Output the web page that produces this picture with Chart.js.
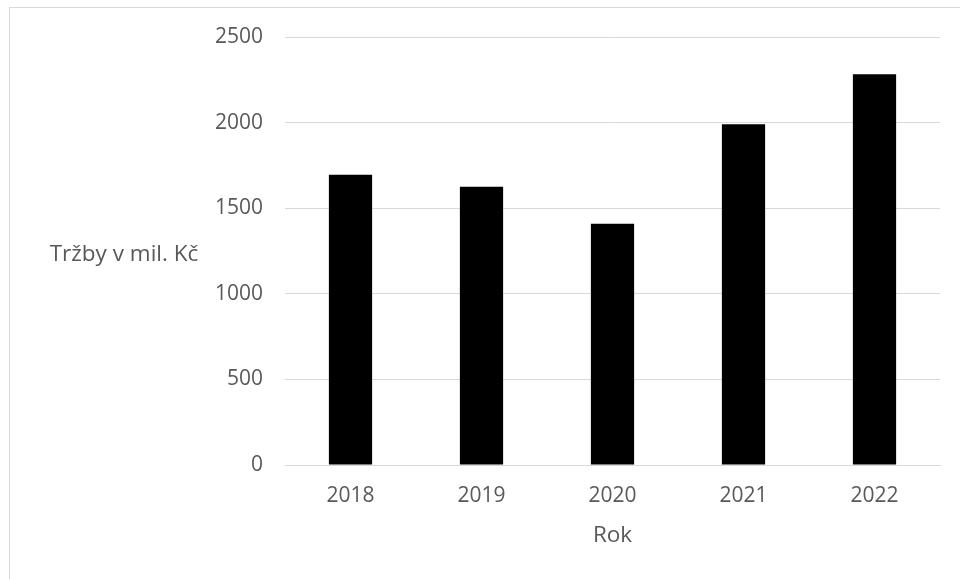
<!DOCTYPE html>
<html lang="cs">
<head>
  <meta charset="UTF-8" />
  <title>Tržby v mil. Kč</title>
  <script src="https://cdn.jsdelivr.net/npm/chart.js"></script>
  <style>
    html, body {
      margin: 0;
      padding: 0;
      background: #fff;
    }
    #wrap {
      width: 960px;
      height: 579px;
      position: relative;
    }
  </style>
</head>
<body>
  <div id="wrap"><canvas id="chart"></canvas></div>

  <script>
    const years = ["2018", "2019", "2020", "2021", "2022"];
    const revenue = [1695, 1626, 1409, 1990, 2282];
    const yTicks = [0, 500, 1000, 1500, 2000, 2500];

    const textColor = "#595959";
    const gridColor = "#d9d9d9";
    const fontFamily = "'Open Sans', 'Liberation Sans', sans-serif";

    // outer frame plus the horizontal y-axis caption
    const frameAndCaption = {
      id: "frameAndCaption",
      beforeDraw(chart) {
        const ctx = chart.ctx;
        ctx.save();
        ctx.strokeStyle = gridColor;
        ctx.lineWidth = 1;
        ctx.strokeRect(9.5, 7.5, 980, 600);
        ctx.restore();
      },
      afterDraw(chart) {
        const ctx = chart.ctx;
        const area = chart.chartArea;
        ctx.save();
        ctx.fillStyle = textColor;
        ctx.font = "22.5px " + fontFamily;
        ctx.textAlign = "center";
        ctx.textBaseline = "middle";
        ctx.fillText("Tržby v mil. Kč", 124, (area.top + area.bottom) / 2 + 4);
        ctx.restore();
      }
    };

    new Chart(document.getElementById("chart"), {
      type: "bar",
      data: {
        labels: years,
        datasets: [{
          data: revenue,
          backgroundColor: "#000000",
          borderWidth: 0,
          categoryPercentage: 1,
          barPercentage: 0.33
        }]
      },
      options: {
        responsive: true,
        maintainAspectRatio: false,
        animation: false,
        layout: { padding: { left: 0, right: 20, top: 37, bottom: 0 } },
        plugins: {
          legend: { display: false },
          tooltip: { enabled: false }
        },
        scales: {
          x: {
            grid: { display: false, drawTicks: false },
            border: { display: true, color: gridColor, width: 1 },
            ticks: {
              color: textColor,
              padding: 18,
              font: { family: fontFamily, size: 21 }
            },
            title: {
              display: true,
              text: "Rok",
              color: textColor,
              font: { family: fontFamily, size: 22.5 },
              padding: { top: 0, bottom: 30 }
            },
            afterFit(scale) { scale.height = 114; }
          },
          y: {
            min: 0,
            max: 2500,
            afterBuildTicks(scale) {
              scale.ticks = yTicks.map(v => ({ value: v }));
            },
            grid: { color: gridColor, lineWidth: 1, drawTicks: false },
            border: { display: false },
            ticks: {
              color: textColor,
              padding: 22,
              font: { family: fontFamily, size: 21 },
              callback: v => String(v)
            },
            afterFit(scale) { scale.width = 285; }
          }
        }
      },
      plugins: [frameAndCaption]
    });
  </script>
</body>
</html>
